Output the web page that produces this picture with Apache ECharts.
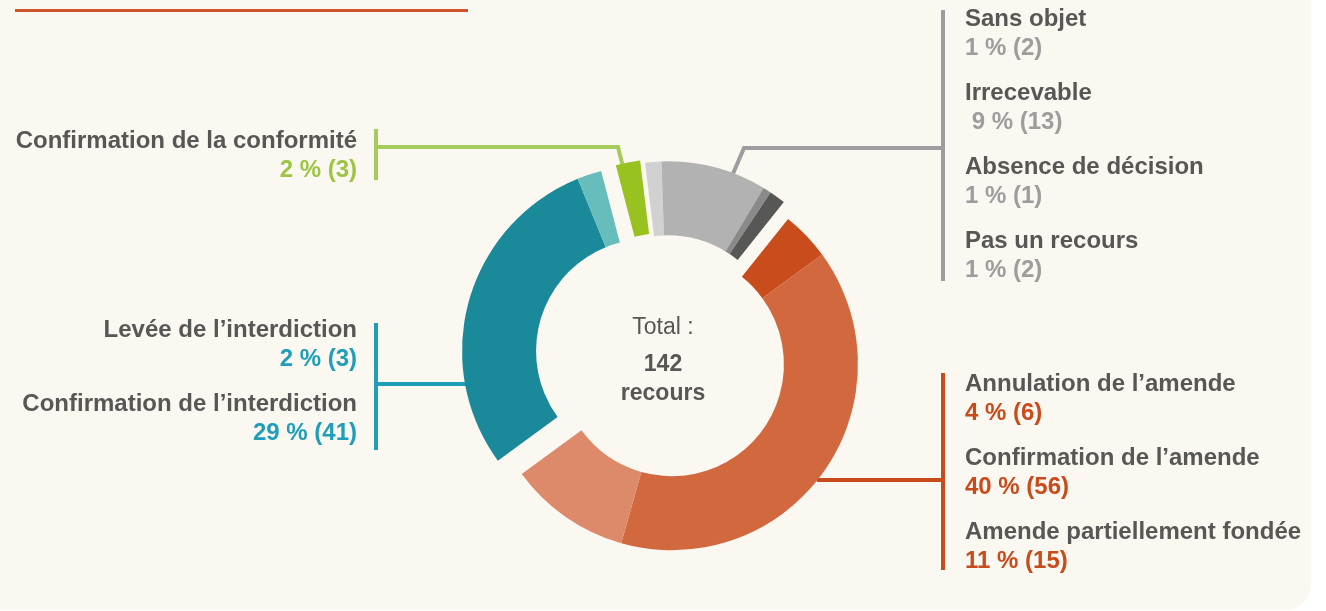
<!DOCTYPE html>
<html>
<head>
<meta charset="utf-8">
<title>Recours par type de décision</title>
<script src="https://cdn.jsdelivr.net/npm/echarts@6/dist/echarts.min.js"></script>
<style>
  html, body { margin: 0; padding: 0; background: #ffffff; }
  #chart { width: 1326px; height: 611px; }
</style>
</head>
<body>
<div id="chart"></div>
<script>
// data
const total = 142;

const grayNames = ['Sans objet', 'Irrecevable', 'Absence de décision', 'Pas un recours'];
const grayValues = [2, 13, 1, 2];
const grayPcts = ['1 % (2)', ' 9 % (13)', '1 % (1)', '1 % (2)'];

const orangeNames = ['Annulation de l’amende', 'Confirmation de l’amende', 'Amende partiellement fondée'];
const orangeValues = [6, 56, 15];
const orangePcts = ['4 % (6)', '40 % (56)', '11 % (15)'];

const tealNames = ['Confirmation de l’interdiction', 'Levée de l’interdiction'];
const tealValues = [41, 3];
const tealPcts = ['29 % (41)', '2 % (3)'];

const greenNames = ['Confirmation de la conformité'];
const greenValues = [3];
const greenPcts = ['2 % (3)'];

const centerLines = ['Total :', '142', 'recours'];
const titleText = 'Issue des recours, par type de décision';

// styles
const FONT = '"Liberation Sans", Arial, sans-serif';
const DARK = '#575756';
const cx = 665, cy = 357;
const rIn = 112, rOut = 186;
const startCompass = -7; // degrees clockwise from 12 o'clock

const groups = [
  { names: grayNames, values: grayValues, colors: ['#d1d1d1', '#b2b2b2', '#8a8a8a', '#575756'], offset: 10 },
  { names: orangeNames, values: orangeValues, colors: ['#c94c1c', '#d2683e', '#dc8a6a'], offset: 10 },
  { names: tealNames, values: tealValues, colors: ['#1a8a9a', '#66bdbb'], offset: 18 },
  { names: greenNames, values: greenValues, colors: ['#97c21f'], offset: 12 }
];

let cum = 0;
const series = groups.map(function (g) {
  const sum = g.values.reduce((a, b) => a + b, 0);
  const a0 = startCompass + cum / total * 360;
  const a1 = startCompass + (cum + sum) / total * 360;
  cum += sum;
  const mid = (a0 + a1) / 2 * Math.PI / 180;
  return {
    type: 'pie',
    radius: [rIn, rOut],
    center: [cx + g.offset * Math.sin(mid), cy - g.offset * Math.cos(mid)],
    clockwise: true,
    startAngle: 90 - a0,
    endAngle: 90 - a1,
    silent: true,
    avoidLabelOverlap: false,
    label: { show: false },
    labelLine: { show: false },
    emphasis: { disabled: true },
    data: g.names.map((n, i) => ({ name: n, value: g.values[i], itemStyle: { color: g.colors[i] } }))
  };
});

function txt(x, y, text, color, align, weight, size) {
  return {
    type: 'text', x: x, y: y, silent: true,
    style: {
      text: text, fill: color, align: align || 'left', verticalAlign: 'middle',
      font: (weight || 'bold') + ' ' + (size || 24) + 'px ' + FONT
    }
  };
}

function line(points, color) {
  return {
    type: 'polyline', silent: true,
    shape: { points: points },
    style: { stroke: color, lineWidth: 4, fill: null }
  };
}

const graphics = [
  // panel
  { type: 'rect', shape: { x: -40, y: -40, width: 1351, height: 650, r: 26 }, style: { fill: '#fbf7f1' }, z: -10, silent: true },
  // clipped title and its underline
  txt(15, -12, titleText, DARK, 'left'),
  { type: 'rect', shape: { x: 15, y: 9, width: 453, height: 3 }, style: { fill: '#d0542a' }, silent: true },
  // leader lines
  line([[943, 10], [943, 281]], '#9d9d9f'),
  line([[732, 176], [744, 148], [943, 148]], '#9d9d9f'),
  line([[943, 373], [943, 570]], '#c84b1b'),
  line([[817, 480], [943, 480]], '#c84b1b'),
  line([[376, 323], [376, 450]], '#1e9eb8'),
  line([[376, 384], [466, 384]], '#1e9eb8'),
  line([[376, 129], [376, 180]], '#a5cb5c'),
  line([[376, 147], [618, 147], [623, 167]], '#a5cb5c'),
  // centre
  txt(cx - 2, 328, centerLines[0], DARK, 'center', 'normal', 23),
  txt(cx - 2, 365, centerLines[1], DARK, 'center', 'bold', 23),
  txt(cx - 2, 394, centerLines[2], DARK, 'center', 'bold', 23)
];

// right-hand labels
grayNames.forEach(function (n, i) {
  graphics.push(txt(965, 19 + i * 74, n, DARK));
  graphics.push(txt(965, 48 + i * 74, grayPcts[i], '#9d9d9d'));
});
orangeNames.forEach(function (n, i) {
  graphics.push(txt(965, 384 + i * 74, n, DARK));
  graphics.push(txt(965, 413 + i * 74, orangePcts[i], '#c84b1b'));
});
// left-hand labels (listed from the top)
[1, 0].forEach(function (k, i) {
  graphics.push(txt(357, 330 + i * 74, tealNames[k], DARK, 'right'));
  graphics.push(txt(357, 359 + i * 74, tealPcts[k], '#1e9eb8', 'right'));
});
graphics.push(txt(357, 141, greenNames[0], DARK, 'right'));
graphics.push(txt(357, 170, greenPcts[0], '#9dc544', 'right'));

const chart = echarts.init(document.getElementById('chart'), null, { renderer: 'canvas' });
chart.setOption({
  backgroundColor: '#ffffff',
  animation: false,
  series: series,
  graphic: graphics
});
</script>
</body>
</html>
